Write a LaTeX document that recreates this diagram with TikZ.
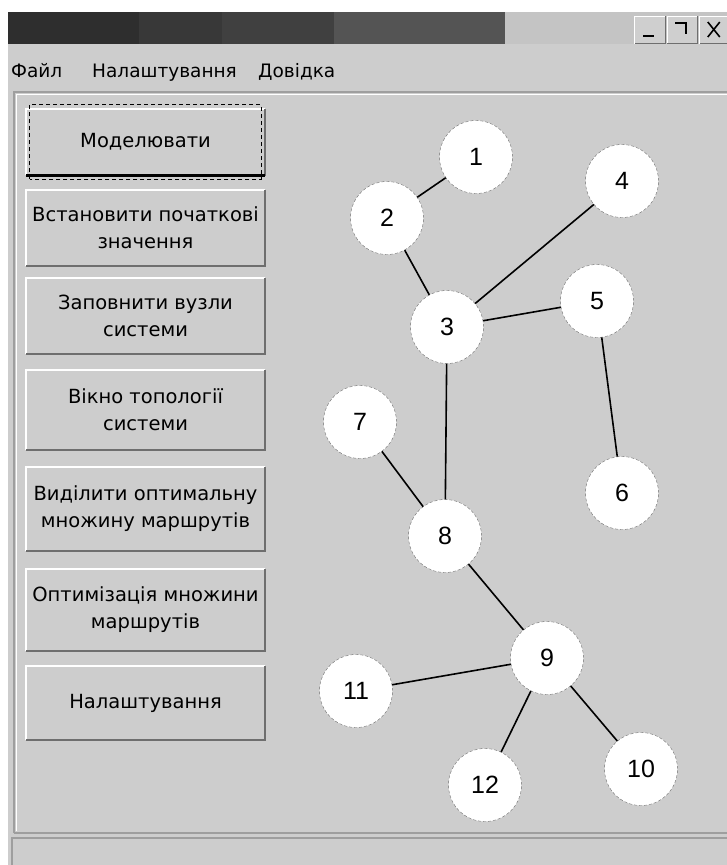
\documentclass[tikz,border=0pt]{standalone}
\usepackage{fontspec}
\setmainfont{DejaVu Sans}
\newfontfamily\numfont{Liberation Sans}
\usetikzlibrary{positioning}

\definecolor{winbg}{HTML}{CDCDCD}
\definecolor{frame}{HTML}{9E9E9E}
\definecolor{btnshade}{HTML}{6E6E6E}

\tikzset{
  btn/.style={rectangle, fill=winbg, minimum width=239pt, inner sep=0pt,
    align=center, font=\fontsize{19.5}{27}\selectfont},
  capbtn/.style={rectangle, fill=winbg!95!white, minimum width=30pt,
    minimum height=27pt, inner sep=0pt},
  vert/.style={circle, fill=white, draw=btnshade, dash pattern=on 3pt off 2pt,
    minimum size=73pt, inner sep=0pt, font=\numfont\fontsize{25}{25}\selectfont},
  menu/.style={inner sep=0pt, font=\fontsize{18.5}{18.5}\selectfont},
  hl/.style={white, line width=1.5pt},
  sh/.style={btnshade, line width=1.8pt},
  glyph/.style={black, line width=2pt},
  edge/.style={black, line width=1.6pt},
}

\begin{document}
\begin{tikzpicture}[x=1pt, y=-1pt]
      \useasboundingbox (0,0) rectangle (727,865);
      \fill[white] (0,0) rectangle (727,865);
      \fill[winbg] (8,12) rectangle (727,865);

      % title bar
      \fill[black!82] (8,12) rectangle (139,44);
      \fill[black!78] (139,12) rectangle (222,44);
      \fill[black!75] (222,12) rectangle (334,44);
      \fill[black!67] (334,12) rectangle (505,44);
      \fill[black!23] (505,12) rectangle (727,44);
      \node[capbtn] (tb1) at (650,30) {};
      \node[capbtn, right=2pt of tb1] (tb2) {};
      \node[capbtn, right=2pt of tb2] (tb3) {};
      \draw[glyph] ([shift={(-7pt,-6pt)}]tb1.center) -- ([shift={(4pt,-6pt)}]tb1.center);
      \draw[glyph] ([shift={(-7pt,7pt)}]tb2.center) -- ([shift={(4pt,7pt)}]tb2.center)
        -- ([shift={(4pt,-4pt)}]tb2.center);
      \draw[glyph, line width=1.6pt] ([shift={(-7pt,8pt)}]tb3.center) -- ([shift={(5pt,-7pt)}]tb3.center);
      \draw[glyph, line width=1.6pt] ([shift={(-7pt,-7pt)}]tb3.center) -- ([shift={(5pt,8pt)}]tb3.center);

      % menu
      \node[menu, anchor=base west] (m1) at (11,77) {Файл};
      \node[menu, anchor=base west] (m2) at (92,77) {Налаштування};
      \node[menu, anchor=base west] (m3) at (258,77) {Довідка};

      % panel and status bar
      \draw[frame, line width=1.5pt] (14,833) -- (14,92) -- (727,92);
      \draw[white, line width=1pt] (16,831) -- (16,94) -- (727,94);
      \draw[frame, line width=1.5pt] (14,833) -- (727,833);
      \draw[frame, line width=1.5pt] (12,865) -- (12,838) -- (727,838);

      % buttons
      \node[btn, minimum height=66pt] (b1) at (145.5,142) {Моделювати};
      \node[btn, minimum height=76pt] (b2) at (145.5,228) {Встановити початкові\\значення};
      \node[btn, minimum height=76pt] (b3) at (145.5,316) {Заповнити вузли\\системи};
      \node[btn, minimum height=80pt] (b4) at (145.5,410) {Вікно топології\\системи};
      \node[btn, minimum height=84pt] (b5) at (145.5,509) {Виділити оптимальну\\множину маршрутів};
      \node[btn, minimum height=82pt] (b6) at (145.5,610) {Оптимізація множини\\маршрутів};
      \node[btn, minimum height=74pt] (b7) at (145.5,703) {Налаштування};

      \foreach \i in {1,...,7} {
        \draw[hl] (b\i.south west) -- (b\i.north west) -- (b\i.north east);
        \draw[sh] (b\i.north east) -- (b\i.south east) -- (b\i.south west);
      }
      \draw[black, line width=3pt] (b1.south west) -- (b1.south east);
      \draw[black, line width=1.2pt, dash pattern=on 4pt off 3pt]
        ([shift={(4pt,-4pt)}]b1.south west) rectangle ([shift={(-4pt,4pt)}]b1.north east);
      \foreach \i in {1,2,3} {
        \draw[hl, line width=1pt] (tb\i.south west) -- (tb\i.north west) -- (tb\i.north east);
        \draw[sh, line width=1pt] (tb\i.north east) -- (tb\i.south east) -- (tb\i.south west);
      }

      % topology
      \node[vert] (n1) at (476,157) {1};
      \node[vert] (n2) at (387,218) {2};
      \node[vert] (n3) at (447,327) {3};
      \node[vert] (n4) at (622,181) {4};
      \node[vert] (n5) at (597,301) {5};
      \node[vert] (n6) at (622,493) {6};
      \node[vert] (n7) at (360,422) {7};
      \node[vert] (n8) at (445,536) {8};
      \node[vert] (n9) at (547,658) {9};
      \node[vert] (n10) at (641,769) {10};
      \node[vert] (n11) at (356,691) {11};
      \node[vert] (n12) at (485,785) {12};

      \draw[edge] (n1) -- (n2) -- (n3) -- (n4);
      \draw[edge] (n3) -- (n5) -- (n6);
      \draw[edge] (n3) -- (n8) -- (n9);
      \draw[edge] (n7) -- (n8);
      \draw[edge] (n9) -- (n11);
      \draw[edge] (n9) -- (n12);
      \draw[edge] (n9) -- (n10);
\end{tikzpicture}
\end{document}
